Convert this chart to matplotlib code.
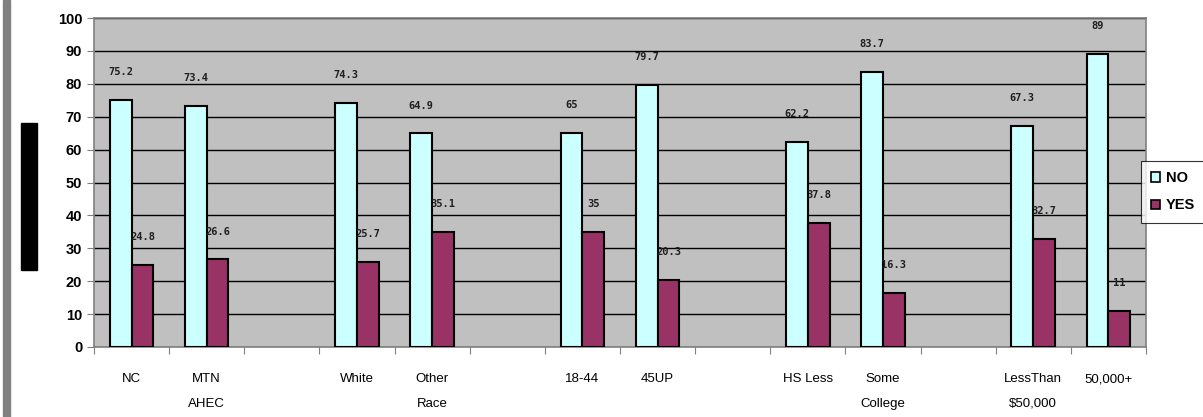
import numpy as np
import matplotlib.pyplot as plt
from matplotlib.patches import Rectangle

# survey results, NO / YES percentages by group (blank slots are gaps)
categories = ['NC', 'MTN\nAHEC', '', 'White', 'Other\nRace', '', '18-44', '45UP', '',
              'HS Less', 'Some\nCollege', '', 'LessThan\n$50,000', '50,000+']
no_vals = [75.2, 73.4, None, 74.3, 64.9, None, 65, 79.7, None, 62.2, 83.7, None, 67.3, 89]
yes_vals = [24.8, 26.6, None, 25.7, 35.1, None, 35, 20.3, None, 37.8, 16.3, None, 32.7, 11]

fig = plt.figure(figsize=(12.03, 4.17), dpi=100)
ax = fig.add_axes([0.0781, 0.1679, 0.8745, 0.7889])
ax.set_facecolor('#C0C0C0')

x = np.arange(len(categories))
w = 0.29
for i in range(len(categories)):
	if no_vals[i] is None:
		continue
	ax.bar(x[i] - w/2, no_vals[i], w, color='#CCFFFF', edgecolor='black', linewidth=1.5, zorder=3)
	ax.bar(x[i] + w/2, yes_vals[i], w, color='#993366', edgecolor='black', linewidth=1.5, zorder=3)
	ax.text(x[i] - w/2, no_vals[i] + 8.5, str(no_vals[i]), ha='center', va='center',
	        fontsize=7.5, fontweight='bold', family='DejaVu Sans Mono', color='#202020')
	ax.text(x[i] + w/2, yes_vals[i] + 8.5, str(yes_vals[i]), ha='center', va='center',
	        fontsize=7.5, fontweight='bold', family='DejaVu Sans Mono', color='#202020')

ax.set_xlim(-0.5, len(categories) - 0.5)
ax.set_ylim(0, 100)
ax.set_yticks(range(0, 101, 10))
ax.set_yticklabels([str(v) for v in range(0, 101, 10)], fontsize=10.5, fontweight='bold',
                   family='Liberation Sans')
ax.set_xticks(np.arange(len(categories) + 1) - 0.5)
ax.set_xticklabels([])
ax.set_xticks(x, minor=True)
ax.set_xticklabels(categories, minor=True, fontsize=9.5, family='Liberation Sans', linespacing=2.4, va='top')
ax.tick_params(axis='x', which='minor', length=0, pad=19)
ax.tick_params(axis='x', which='major', length=5, color='#808080', direction='out')
ax.tick_params(axis='y', length=5, color='#808080', direction='out')
ax.yaxis.grid(True, color='black', linewidth=1, zorder=0)
ax.set_axisbelow(True)
for s in ax.spines.values():
	s.set_color('#808080')
	s.set_linewidth(1.2)

# left side decorations
fig.patches.append(Rectangle((0.0025, 0.0), 0.0058, 1.0, transform=fig.transFigure,
                             color='#808080', zorder=0))
fig.patches.append(Rectangle((0.0175, 0.352), 0.0133, 0.353, transform=fig.transFigure,
                             color='black', zorder=0))

leg = fig.legend(['NO', 'YES'], loc='upper left', bbox_to_anchor=(0.9485, 0.614),
                 borderaxespad=0, frameon=True, fancybox=False, edgecolor='black',
                 prop={'weight': 'bold', 'family': 'Liberation Sans', 'size': 10.5},
                 handlelength=0.6, handleheight=0.6, handletextpad=0.4,
                 labelspacing=0.9, borderpad=0.7)
leg.get_frame().set_linewidth(0.8)
for h in leg.legend_handles:
	h.set_linewidth(1.2)

fig.savefig('out.png', dpi=100)
